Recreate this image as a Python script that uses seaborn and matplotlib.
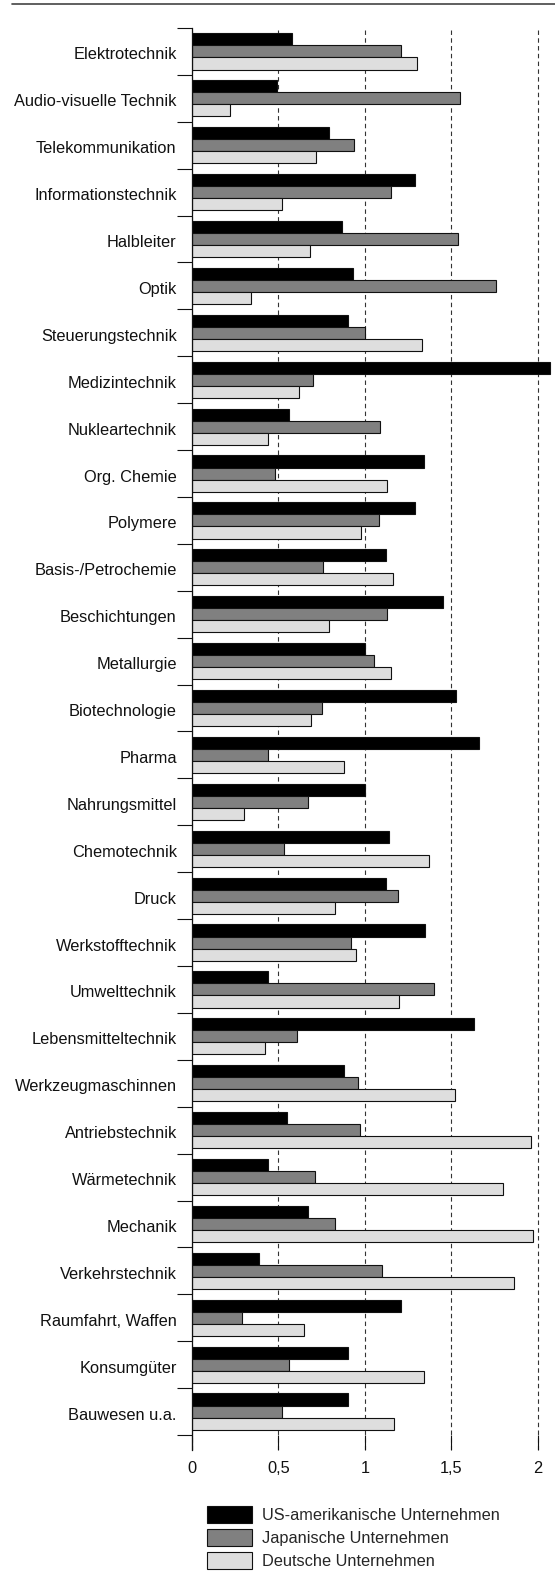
import numpy as np
import pandas as pd
import matplotlib
matplotlib.use("Agg")
import matplotlib.pyplot as plt
import matplotlib.transforms as mtransforms
from matplotlib.patches import Patch
from matplotlib.lines import Line2D
import seaborn as sns

# Data
categories = [
    "Elektrotechnik", "Audio-visuelle Technik", "Telekommunikation",
    "Informationstechnik", "Halbleiter", "Optik", "Steuerungstechnik",
    "Medizintechnik", "Nukleartechnik", "Org. Chemie", "Polymere",
    "Basis-/Petrochemie", "Beschichtungen", "Metallurgie", "Biotechnologie",
    "Pharma", "Nahrungsmittel", "Chemotechnik", "Druck", "Werkstofftechnik",
    "Umwelttechnik", "Lebensmitteltechnik", "Werkzeugmaschinnen",
    "Antriebstechnik", "Wärmetechnik", "Mechanik", "Verkehrstechnik",
    "Raumfahrt, Waffen", "Konsumgüter", "Bauwesen u.a.",
]
series = ["US-amerikanische Unternehmen", "Japanische Unternehmen", "Deutsche Unternehmen"]

us = [0.58, 0.49, 0.79, 1.29, 0.87, 0.93, 0.90, 2.07, 0.56, 1.34,
      1.29, 1.12, 1.45, 1.00, 1.53, 1.66, 1.00, 1.14, 1.12, 1.35,
      0.44, 1.63, 0.88, 0.55, 0.44, 0.67, 0.39, 1.21, 0.90, 0.90]
jp = [1.21, 1.55, 0.94, 1.15, 1.54, 1.76, 1.00, 0.70, 1.09, 0.48,
      1.08, 0.76, 1.13, 1.05, 0.75, 0.44, 0.67, 0.53, 1.19, 0.92,
      1.40, 0.61, 0.96, 0.97, 0.71, 0.83, 1.10, 0.29, 0.56, 0.52]
de = [1.30, 0.22, 0.72, 0.52, 0.68, 0.34, 1.33, 0.62, 0.44, 1.13,
      0.98, 1.16, 0.79, 1.15, 0.69, 0.88, 0.30, 1.37, 0.83, 0.95,
      1.20, 0.42, 1.52, 1.96, 1.80, 1.97, 1.86, 0.65, 1.34, 1.17]

xticks = [0, 0.5, 1, 1.5, 2]
xtick_labels = ["0", "0,5", "1", "1,5", "2"]

colors = ["#000000", "#808080", "#dedede"]

df = pd.DataFrame({"Branche": categories, series[0]: us, series[1]: jp, series[2]: de})
long_df = df.melt(id_vars="Branche", var_name="Land", value_name="Wert")

sns.set_theme(style="white")
plt.rcParams["font.family"] = ["Liberation Sans", "DejaVu Sans"]
plt.rcParams["font.size"] = 11.8

W, H = 555, 1582
fig = plt.figure(figsize=(W / 100, H / 100), dpi=100)
ax = fig.add_axes([192 / W, 1 - 1450 / H, 1 - 192 / W, (1450 - 28) / H])

sns.barplot(data=long_df, x="Wert", y="Branche", hue="Land", order=categories,
            hue_order=series, palette=colors, orient="h", width=0.77,
            edgecolor="#111111", linewidth=0.8, saturation=1, errorbar=None,
            legend=False, ax=ax)

# axes limits
n = len(categories)
ax.set_xlim(0, 2.1)
ax.set_ylim(n - 0.5 + 15 / 46.9, -0.5)

# y: boundary ticks without labels, labels at category centres
ax.set_yticks(np.arange(-0.5, n, 1.0))
ax.set_yticklabels([])
ax.set_yticks(np.arange(n), minor=True)
ax.set_yticklabels(categories, minor=True, fontsize=11.8, color="#111111")
ax.tick_params(axis="y", which="major", direction="out", length=10.8, width=0.8,
               color="#111111", left=True)
ax.tick_params(axis="y", which="minor", length=0, pad=11, left=True)

# nudge category labels down slightly, as in the original
shift = mtransforms.ScaledTranslation(0, -2 / 100, fig.dpi_scale_trans)
for lbl in ax.get_yticklabels(minor=True):
    lbl.set_transform(lbl.get_transform() + shift)

# x ticks pointing into the plot from the bottom
ax.set_xticks(xticks)
ax.set_xticklabels(xtick_labels, fontsize=11.8, color="#111111")
ax.tick_params(axis="x", which="major", direction="in", length=10.8, width=0.8,
               color="#111111", pad=8, bottom=True)

ax.set_xlabel("")
ax.set_ylabel("")

# dashed vertical grid
ax.xaxis.grid(True, linestyle=(0, (4, 3)), linewidth=0.8, color="#333333")
ax.yaxis.grid(False)
ax.set_axisbelow(True)

for side in ["top", "right", "bottom"]:
    ax.spines[side].set_visible(False)
ax.spines["left"].set_color("#111111")
ax.spines["left"].set_linewidth(0.9)

# rule across the top of the figure
fig.add_artist(Line2D([12 / W, 1], [1 - 3.5 / H, 1 - 3.5 / H], color="#444444",
                      linewidth=1.2, transform=fig.transFigure))

# legend below the chart
handles = [Patch(facecolor=c, edgecolor="#111111", linewidth=0.8) for c in colors]
fig.legend(handles, series, loc="upper left", bbox_to_anchor=(207 / W, 1 - 1506 / H),
           frameon=False, borderpad=0, borderaxespad=0, handlelength=2.74,
           handleheight=1.22, labelspacing=0.37, handletextpad=0.6,
           fontsize=11.8)

fig.savefig("out.png", dpi=100)
